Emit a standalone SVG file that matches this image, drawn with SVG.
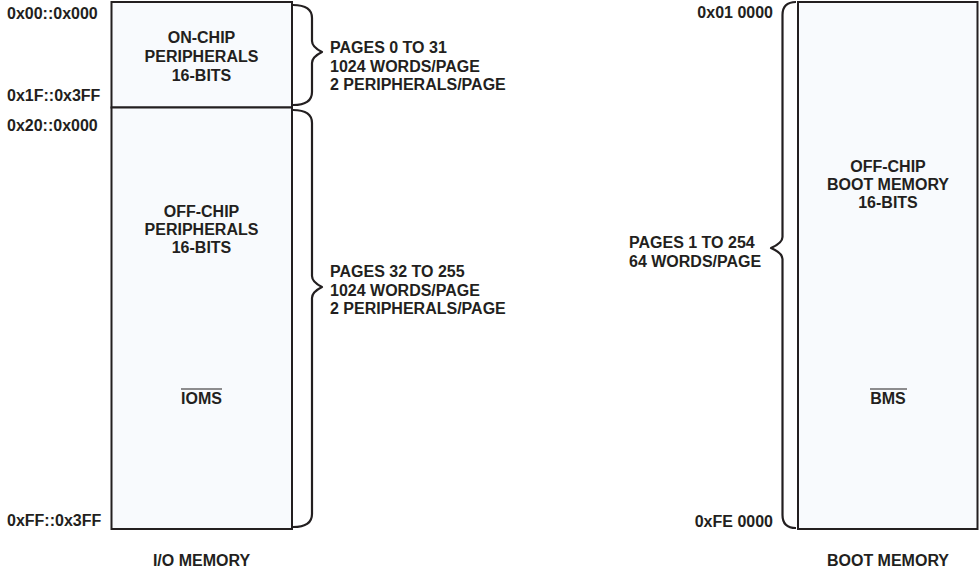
<svg xmlns="http://www.w3.org/2000/svg" width="979" height="569" viewBox="0 0 979 569">
  <style>
    .t { font-family: "Liberation Sans", Arial, sans-serif; font-weight: bold; font-size: 16px; fill: #231f20; }
    .c { text-anchor: middle; }
    .r { text-anchor: end; }
    .box { fill: #f8fafd; stroke: #231f20; stroke-width: 2; }
    .brace { fill: none; stroke: #231f20; stroke-width: 2.2; stroke-linejoin: round; }
    .bar { stroke: #231f20; stroke-width: 1.2; }
  </style>

  <!-- I/O memory map -->
  <g id="io-onchip">
    <rect class="box" x="111.5" y="2" width="180.5" height="105.5"/>
    <text class="t c" x="201.5" y="43">ON-CHIP</text>
    <text class="t c" x="201.5" y="62">PERIPHERALS</text>
    <text class="t c" x="201.5" y="81">16-BITS</text>
  </g>
  <g id="io-offchip">
    <rect class="box" x="111.5" y="107.5" width="180.5" height="421.5"/>
    <text class="t c" x="201.5" y="217">OFF-CHIP</text>
    <text class="t c" x="201.5" y="235">PERIPHERALS</text>
    <text class="t c" x="201.5" y="253">16-BITS</text>
    <text class="t c" x="201.5" y="404">IOMS</text>
    <line class="bar" x1="181" y1="389" x2="222" y2="389"/>
  </g>
  <g id="io-addresses">
    <text class="t" x="7" y="19">0x00::0x000</text>
    <text class="t" x="7" y="101">0x1F::0x3FF</text>
    <text class="t" x="7" y="131">0x20::0x000</text>
    <text class="t" x="7" y="526">0xFF::0x3FF</text>
  </g>
  <g id="io-title">
    <text class="t c" x="201.5" y="566">I/O MEMORY</text>
  </g>

  <!-- Boot memory map -->
  <g id="boot-offchip">
    <rect class="box" x="798" y="2" width="179.5" height="527"/>
    <text class="t c" x="888" y="172">OFF-CHIP</text>
    <text class="t c" x="888" y="190">BOOT MEMORY</text>
    <text class="t c" x="888" y="208">16-BITS</text>
    <text class="t c" x="888" y="404">BMS</text>
    <line class="bar" x1="870" y1="389" x2="907" y2="389"/>
  </g>
  <g id="boot-addresses">
    <text class="t r" x="773" y="18">0x01 0000</text>
    <text class="t r" x="773" y="527">0xFE 0000</text>
  </g>
  <g id="boot-title">
    <text class="t c" x="888" y="566">BOOT MEMORY</text>
  </g>

  <!-- Range braces and their notes -->
  <g id="braces">
    <path class="brace" d="M293 5 Q312 5 312 18 L312 41 Q312 47 322 52 Q312 57 312 63 L312 92 Q312 105 293 105"/>
    <path class="brace" d="M293 110 Q312 110 312 123 L312 276 Q312 282 322 287 Q312 292 312 298 L312 514 Q312 527 293 527"/>
    <path class="brace" d="M796 2 Q782.5 2 782.5 15 L782.5 237 Q782.5 243 771 248 Q782.5 253 782.5 259 L782.5 515 Q782.5 528 796 528"/>
  </g>
  <g id="notes">
    <text class="t" x="330" y="53">PAGES 0 TO 31</text>
    <text class="t" x="330" y="72">1024 WORDS/PAGE</text>
    <text class="t" x="330" y="90">2 PERIPHERALS/PAGE</text>
    <text class="t" x="330" y="277">PAGES 32 TO 255</text>
    <text class="t" x="330" y="296">1024 WORDS/PAGE</text>
    <text class="t" x="330" y="314">2 PERIPHERALS/PAGE</text>
    <text class="t" x="629" y="248">PAGES 1 TO 254</text>
    <text class="t" x="629" y="267">64 WORDS/PAGE</text>
  </g>
</svg>
